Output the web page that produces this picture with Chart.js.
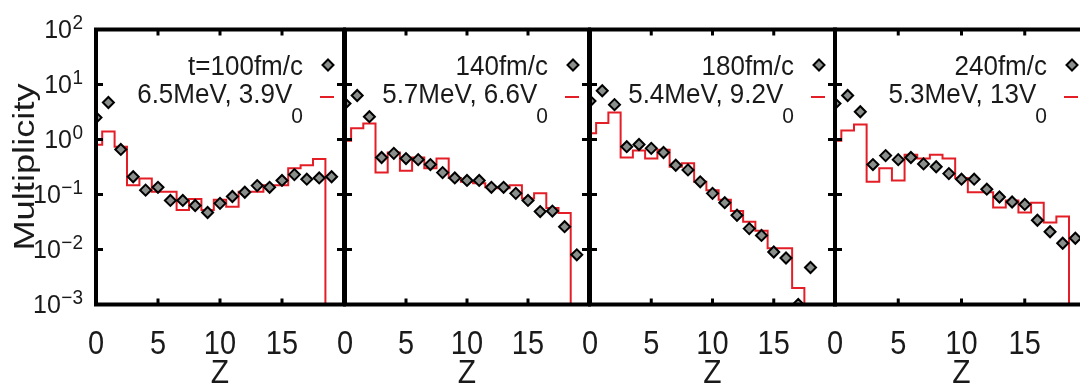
<!DOCTYPE html>
<html>
<head>
<meta charset="utf-8">
<script src="https://cdn.jsdelivr.net/npm/chart.js@4.4.1/dist/chart.umd.min.js"></script>
<style>
  html, body { margin: 0; padding: 0; background: #fff; overflow: hidden; }
  #wrap { position: relative; width: 1080px; height: 388px; overflow: hidden; }
  #wrap canvas { position: absolute; left: 0; top: 0; }
</style>
</head>
<body>
<div id="wrap"></div>
<script>
// charge number Z of each bin
const zValues = [0, 1, 2, 3, 4, 5, 6, 7, 8, 9, 10, 11, 12, 13, 14, 15, 16, 17, 18, 19];
const xTicks = [0, 5, 10, 15];
const yTicks = [1e2, 1e1, 1e0, 1e-1, 1e-2, 1e-3];
const yExponents = ['2', '1', '0', '\u22121', '\u22122', '\u22123'];

const timeLabels = ['t=100fm/c', '140fm/c', '180fm/c', '240fm/c'];
const fitLabels = ['6.5MeV, 3.9V', '5.7MeV, 6.6V', '5.4MeV, 9.2V', '5.3MeV, 13V'];

// diamonds: transport simulation, index = Z
const sim100 = [2.5, 4.7, 0.66, 0.21, 0.12, 0.135, 0.078, 0.078, 0.063, 0.047, 0.069, 0.092, 0.11, 0.145, 0.135, 0.18, 0.23, 0.19, 0.2, 0.21];
const sim140 = [4.5, 6.3, 2.6, 0.47, 0.56, 0.45, 0.43, 0.35, 0.25, 0.2, 0.18, 0.18, 0.135, 0.135, 0.105, 0.078, 0.049, 0.05, 0.026, 0.008];
const sim180 = [5, 7.7, 4.3, 0.74, 0.81, 0.69, 0.58, 0.34, 0.28, 0.17, 0.105, 0.071, 0.042, 0.024, 0.018, 0.009, 0.007, 0.001, 0.0047];
const sim240 = [4.5, 6.3, 3.2, 0.35, 0.51, 0.43, 0.47, 0.36, 0.32, 0.24, 0.19, 0.19, 0.125, 0.09, 0.073, 0.066, 0.034, 0.021, 0.013, 0.016];

// red histograms: statistical decay, index = Z (0 = empty bin)
const fit100 = [0.8, 1.4, 0.74, 0.148, 0.195, 0.112, 0.112, 0.052, 0.083, 0.052, 0.08, 0.06, 0.112, 0.112, 0.148, 0.148, 0.3, 0.34, 0.44, 0];
const fit140 = [0.95, 1.6, 1.95, 0.25, 0.58, 0.27, 0.47, 0.3, 0.45, 0.2, 0.17, 0.16, 0.135, 0.13, 0.148, 0.085, 0.105, 0.057, 0.046, 0];
const fit180 = [1.3, 2.0, 3.1, 0.47, 0.63, 0.45, 0.65, 0.32, 0.37, 0.17, 0.12, 0.08, 0.05, 0.032, 0.022, 0.0105, 0.0105, 0.002, 0];
const fit240 = [0.95, 1.45, 1.87, 0.17, 0.3, 0.18, 0.53, 0.45, 0.53, 0.45, 0.2, 0.11, 0.11, 0.058, 0.078, 0.047, 0.071, 0.031, 0.04, 0];

const simSets = [sim100, sim140, sim180, sim240];
const fitSets = [fit100, fit140, fit180, fit240];

// panel frames in page pixels
const panelX = [[96, 344], [345, 589], [590, 835], [835, 1088]];
const plotTop = 29.5, plotBottom = 304.5;
const canvasW = 1100, canvasH = 388;

const RED = 'rgb(228, 30, 38)';
const INK = '#1a1a1a';
const FONT = '"Liberation Sans", Arial, Helvetica, sans-serif';

function text(ctx, str, x, y, size, sy, align) {
    ctx.save();
    ctx.translate(x, y);
    ctx.scale(1, sy);
    ctx.font = size + 'px ' + FONT;
    ctx.textAlign = align;
    ctx.textBaseline = 'alphabetic';
    ctx.fillText(str, 0, 0);
    ctx.restore();
}

function diamond(ctx, x, y, r) {
    ctx.beginPath();
    ctx.moveTo(x, y - r);
    ctx.lineTo(x + r, y);
    ctx.lineTo(x, y + r);
    ctx.lineTo(x - r, y);
    ctx.closePath();
    ctx.fillStyle = '#8a8f8b';
    ctx.fill();
    ctx.lineWidth = 2;
    ctx.strokeStyle = '#000';
    ctx.stroke();
}

const framePlugin = {
    id: 'frame',
    afterDatasetsDraw(chart) {
        const { ctx, chartArea: a, scales: { x, y } } = chart;
        const idx = chart.options.plugins.frame.panel;
        ctx.save();

        // thick frame
        ctx.strokeStyle = '#000';
        ctx.lineWidth = 4;
        ctx.strokeRect(a.left, a.top, a.right - a.left, a.bottom - a.top);

        // inward ticks
        ctx.lineWidth = 3;
        ctx.beginPath();
        yTicks.forEach(v => {
            const py = y.getPixelForValue(v);
            ctx.moveTo(a.left, py); ctx.lineTo(a.left + 7, py);
            ctx.moveTo(a.right, py); ctx.lineTo(a.right - 7, py);
        });
        xTicks.forEach(v => {
            const px = x.getPixelForValue(v);
            ctx.moveTo(px, a.top); ctx.lineTo(px, a.top + 6);
            ctx.moveTo(px, a.bottom); ctx.lineTo(px, a.bottom - 6);
        });
        ctx.stroke();

        ctx.fillStyle = INK;
        // x tick labels and axis title
        xTicks.forEach(v => text(ctx, String(v), x.getPixelForValue(v), 354, 29, 1.17, 'center'));
        text(ctx, 'Z', (a.left + a.right) / 2, 383, 30, 1.08, 'center');

        // key, right aligned inside the frame
        const right = a.right - 41;
        text(ctx, timeLabels[idx], right, 75, 26, 1.08, 'right');
        ctx.font = '21px ' + FONT;
        const subW = ctx.measureText('0').width;
        text(ctx, fitLabels[idx], right - subW + 1, 103, 26, 1.08, 'right');
        text(ctx, '0', right, 123, 21, 1.08, 'right');
        diamond(ctx, a.right - 16, 65, 5.5);
        ctx.strokeStyle = RED;
        ctx.lineWidth = 2;
        ctx.beginPath();
        ctx.moveTo(a.right - 24, 97);
        ctx.lineTo(a.right - 10, 97);
        ctx.stroke();

        // y axis labels only on the first panel
        if (idx === 0) {
            ctx.fillStyle = INK;
            yTicks.forEach((v, k) => {
                const py = y.getPixelForValue(v);
                ctx.font = '19px ' + FONT;
                const ew = ctx.measureText(yExponents[k]).width;
                text(ctx, yExponents[k], 83 - ew, py - 1, 19, 1.05, 'left');
                text(ctx, '10', 83 - ew - 0.5, py + 8, 25, 1.05, 'right');
            });
            ctx.save();
            ctx.translate(34, 167);
            ctx.rotate(-Math.PI / 2);
            ctx.scale(1.25, 1);
            ctx.font = '29px ' + FONT;
            ctx.textAlign = 'center';
            ctx.textBaseline = 'alphabetic';
            ctx.fillText('Multiplicity', 0, 0);
            ctx.restore();
        }
        ctx.restore();
    }
};

const wrap = document.getElementById('wrap');

panelX.forEach(([left, right], i) => {
    const canvas = document.createElement('canvas');
    canvas.width = canvasW;
    canvas.height = canvasH;
    wrap.appendChild(canvas);

    const simPoints = simSets[i].map((v, k) => ({ x: zValues[k], y: v }));
    // an empty bin has no place on a log axis: send it below the frame
    const fitPoints = fitSets[i].map((v, k) => ({ x: zValues[k], y: v > 0 ? v : 1e-6 }));

    new Chart(canvas, {
        type: 'line',
        data: {
            datasets: [
                {
                    type: 'scatter',
                    label: timeLabels[i],
                    data: simPoints,
                    pointStyle: 'rectRot',
                    pointRadius: 5.5,
                    backgroundColor: '#8a8f8b',
                    borderColor: '#000',
                    borderWidth: 2,
                    order: 0
                },
                {
                    type: 'line',
                    label: fitLabels[i],
                    data: fitPoints,
                    stepped: 'middle',
                    borderColor: RED,
                    borderWidth: 2,
                    pointRadius: 0,
                    fill: false,
                    order: 1
                }
            ]
        },
        options: {
            responsive: false,
            animation: false,
            events: [],
            layout: {
                padding: { left: left, right: canvasW - right, top: plotTop, bottom: canvasH - plotBottom }
            },
            scales: {
                x: { type: 'linear', min: 0, max: 20, display: false },
                y: { type: 'logarithmic', min: 1e-3, max: 1e2, display: false }
            },
            plugins: {
                legend: { display: false },
                tooltip: { enabled: false },
                frame: { panel: i }
            }
        },
        plugins: [framePlugin]
    });
});
</script>
</body>
</html>
